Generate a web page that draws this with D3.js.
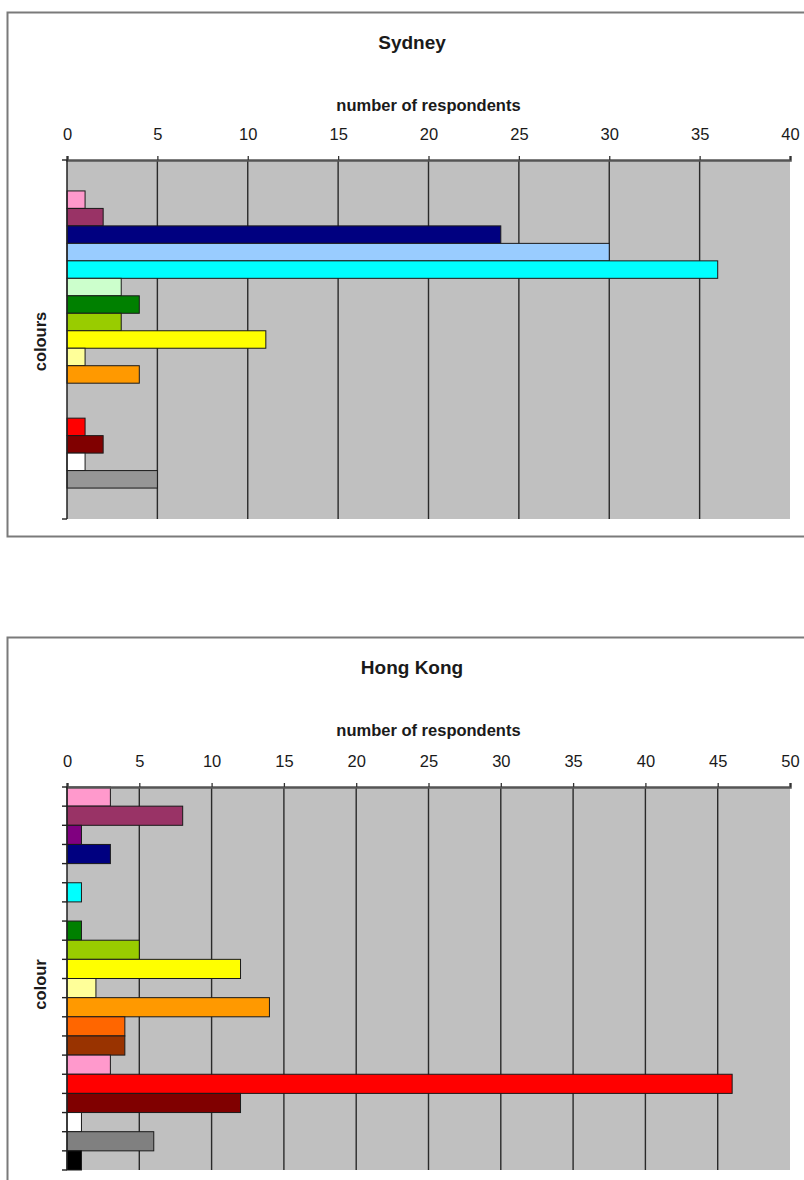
<!DOCTYPE html>
<html>
<head>
<meta charset="utf-8">
<script src="https://cdn.jsdelivr.net/npm/d3@7/dist/d3.min.js"></script>
<style>
  html, body { margin: 0; padding: 0; background: #ffffff; }
  svg { display: block; }
  text { font-family: "Liberation Sans", Arial, sans-serif; fill: #1a1a1a; }
</style>
</head>
<body>
<svg id="chart" width="804" height="1180"></svg>
<script>
// ---------- Data ----------
const sydneyTitle = "Sydney";
const sydneyAxisTitle = "colours";
const sydneyCategories = ["pink", "plum", "dark blue", "pale blue", "turquoise", "light green", "green", "lime", "yellow", "light yellow", "orange", "(none a)", "(none b)", "red", "dark red", "white", "grey"];
const sydneyColours = ["#FF99CC", "#993366", "#000080", "#99CCFF", "#00FFFF", "#CCFFCC", "#008000", "#99CC00", "#FFFF00", "#FFFF99", "#FF9900", "#FF6600", "#993300", "#FF0000", "#800000", "#FFFFFF", "#969696"];
const sydneyValues = [1, 2, 24, 30, 36, 3, 4, 3, 11, 1, 4, 0, 0, 1, 2, 1, 5];
const sydneyTicks = [0, 5, 10, 15, 20, 25, 30, 35, 40];

const hongKongTitle = "Hong Kong";
const hongKongAxisTitle = "colour";
const hongKongCategories = ["pink", "plum", "purple", "dark blue", "blue", "turquoise", "teal", "green", "lime", "yellow", "light yellow", "orange", "orange-red", "brown", "rose", "red", "dark red", "white", "grey", "black"];
const hongKongColours = ["#FF99CC", "#993366", "#800080", "#000080", "#0000FF", "#00FFFF", "#008080", "#008000", "#99CC00", "#FFFF00", "#FFFF99", "#FF9900", "#FF6600", "#993300", "#FF99CC", "#FF0000", "#800000", "#FFFFFF", "#808080", "#000000"];
const hongKongValues = [3, 8, 1, 3, 0, 1, 0, 1, 5, 12, 2, 14, 4, 4, 3, 46, 12, 1, 6, 1];
const hongKongTicks = [0, 5, 10, 15, 20, 25, 30, 35, 40, 45, 50];

const xAxisTitle = "number of respondents";

// ---------- Drawing ----------
const svg = d3.select("#chart");

function drawChart(cfg) {
  const g = svg.append("g").attr("transform", `translate(0,${cfg.top})`);

  // frame
  g.append("rect")
    .attr("x", 7.5).attr("y", 0.5)
    .attr("width", 830).attr("height", cfg.frameH)
    .attr("fill", "#ffffff")
    .attr("stroke", "#7a7a7a").attr("stroke-width", 2);

  const plotL = 67, plotR = 790, plotT = cfg.plotT, plotB = cfg.plotB;
  const x = d3.scaleLinear().domain([0, d3.max(cfg.ticks)]).range([plotL, plotR]);
  const idx = cfg.categories.map((d, i) => i);
  const y = d3.scaleBand().domain(idx).range([plotT, plotB])
    .paddingInner(0).paddingOuter(cfg.outerPad);

  // plot background
  g.append("rect")
    .attr("x", plotL).attr("y", plotT)
    .attr("width", plotR - plotL).attr("height", plotB - plotT)
    .attr("fill", "#C0C0C0");

  // gridlines
  g.append("g").selectAll("line").data(cfg.ticks.slice(1)).join("line")
    .attr("x1", d => x(d)).attr("x2", d => x(d))
    .attr("y1", plotT).attr("y2", plotB)
    .attr("stroke", d => d === d3.max(cfg.ticks) ? "none" : "#2a2a2a")
    .attr("stroke-width", 1.4);

  // bars
  g.append("g").selectAll("rect")
    .data(idx.filter(i => cfg.values[i] > 0)).join("rect")
    .attr("x", x(0))
    .attr("y", i => y(i))
    .attr("width", i => x(cfg.values[i]) - x(0))
    .attr("height", y.bandwidth())
    .attr("fill", i => cfg.colours[i])
    .attr("stroke", "#1a1a1a").attr("stroke-width", 1);

  // top axis
  const axisTop = d3.axisTop(x).tickValues(cfg.ticks).tickSize(4).tickPadding(16);
  const ax = g.append("g").attr("transform", `translate(0,${plotT})`).call(axisTop);
  ax.select(".domain").attr("stroke", "#555").attr("stroke-width", 2.5);
  ax.selectAll(".tick line").attr("stroke", "#333").attr("stroke-width", 1.3);
  ax.selectAll(".tick text")
    .attr("font-size", 16.5).attr("fill", "#222")
    .attr("font-family", "'Liberation Sans Narrow', 'Liberation Sans', Arial, sans-serif");

  // left axis
  g.append("line")
    .attr("x1", plotL).attr("x2", plotL).attr("y1", plotT).attr("y2", plotB)
    .attr("stroke", "#222").attr("stroke-width", 1.5);
  const tickYs = cfg.catTicks
    ? idx.map(i => y(i)).concat([y(idx[idx.length - 1]) + y.bandwidth()])
    : [plotT, plotB];
  g.append("g").selectAll("line").data(tickYs).join("line")
    .attr("x1", plotL - 5).attr("x2", plotL)
    .attr("y1", d => d).attr("y2", d => d)
    .attr("stroke", "#222").attr("stroke-width", 1.4);

  // titles
  g.append("text")
    .attr("x", 412).attr("y", cfg.titleY)
    .attr("text-anchor", "middle")
    .attr("font-size", 19).attr("font-weight", "bold")
    .text(cfg.title);

  g.append("text")
    .attr("x", (plotL + plotR) / 2).attr("y", cfg.xTitleY)
    .attr("text-anchor", "middle")
    .attr("font-size", 16.5).attr("font-weight", "bold")
    .text(xAxisTitle);

  g.append("text")
    .attr("transform", `translate(46,${(plotT + plotB) / 2 + cfg.yTitleShift}) rotate(-90)`)
    .attr("text-anchor", "middle")
    .attr("font-size", 16.5).attr("font-weight", "bold")
    .text(cfg.yTitle);
}

drawChart({
  top: 12, frameH: 524,
  plotT: 148, plotB: 507,
  titleY: 37, xTitleY: 99,
  outerPad: 1.77, catTicks: false, yTitleShift: 2,
  title: sydneyTitle, yTitle: sydneyAxisTitle,
  categories: sydneyCategories, colours: sydneyColours,
  values: sydneyValues, ticks: sydneyTicks
});

drawChart({
  top: 637, frameH: 560,
  plotT: 150, plotB: 533,
  titleY: 37, xTitleY: 99,
  outerPad: 0, catTicks: true, yTitleShift: 6,
  title: hongKongTitle, yTitle: hongKongAxisTitle,
  categories: hongKongCategories, colours: hongKongColours,
  values: hongKongValues, ticks: hongKongTicks
});
</script>
</body>
</html>
